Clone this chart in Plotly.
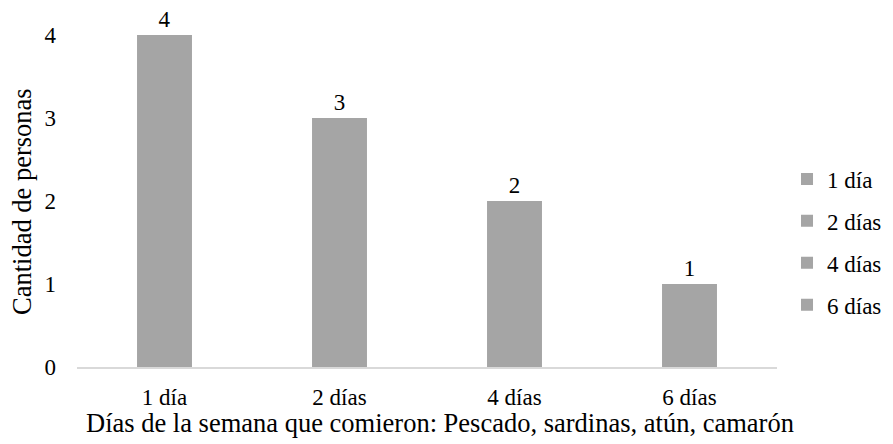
import plotly.graph_objects as go

categories = ["1 día", "2 días", "4 días", "6 días"]
values = [4, 3, 2, 1]
y_ticks = [0, 1, 2, 3, 4]
x_title = "Días de la semana que comieron: Pescado, sardinas, atún, camarón"
y_title = "Cantidad de personas"

BAR_COLOR = "#A5A5A5"
FONT = "Liberation Serif, Times New Roman, serif"
TICK_SIZE = 23
TITLE_SIZE = 26.5

# The page body has an 8px default margin, so the figure is sized to fill the
# 893x444 window exactly from that offset.
fig = go.Figure()
for i, (c, v) in enumerate(zip(categories, values)):
    fig.add_trace(go.Bar(
        x=[c], y=[v], name=c, width=0.314,
        marker=dict(color=BAR_COLOR, line=dict(width=0)),
        text=[str(v)], textposition="outside", cliponaxis=False,
        textfont=dict(family=FONT, size=TICK_SIZE, color="#000000"),
        legendgroup=f"g{i}",
    ))

fig.update_layout(
    width=885, height=436,
    margin=dict(l=69, r=116, t=27, b=77, autoexpand=False),
    paper_bgcolor="white", plot_bgcolor="white",
    barmode="overlay",
    font=dict(family=FONT, size=TICK_SIZE, color="#000000"),
    showlegend=True,
    legend=dict(
        x=1.0143, xanchor="left", xref="paper",
        y=0.3765, yanchor="middle",
        font=dict(family=FONT, size=TICK_SIZE, color="#000000"),
        tracegroupgap=9, itemwidth=30,
        bgcolor="rgba(0,0,0,0)",
    ),
    xaxis=dict(
        categoryorder="array", categoryarray=categories,
        showline=True, linecolor="#D9D9D9", linewidth=2,
        showgrid=False, ticks="", ticklabelstandoff=8,
        tickfont=dict(family=FONT, size=TICK_SIZE, color="#000000"),
        automargin=False, fixedrange=True,
    ),
    yaxis=dict(
        range=[0, 4], tickvals=y_ticks, showgrid=False, zeroline=False,
        showline=False, ticks="", ticklabelstandoff=20,
        tickfont=dict(family=FONT, size=TICK_SIZE, color="#000000"),
        automargin=False, fixedrange=True,
    ),
    annotations=[
        dict(text=x_title, xref="paper", yref="paper", x=0.519, y=-0.169,
             xanchor="center", yanchor="middle", showarrow=False,
             font=dict(family=FONT, size=TITLE_SIZE, color="#000000")),
        dict(text=y_title, xref="paper", yref="paper", x=-0.0786, y=0.5,
             xanchor="center", yanchor="middle", textangle=-90, showarrow=False,
             font=dict(family=FONT, size=TITLE_SIZE, color="#000000")),
    ],
)

fig.write_html("out.html")
